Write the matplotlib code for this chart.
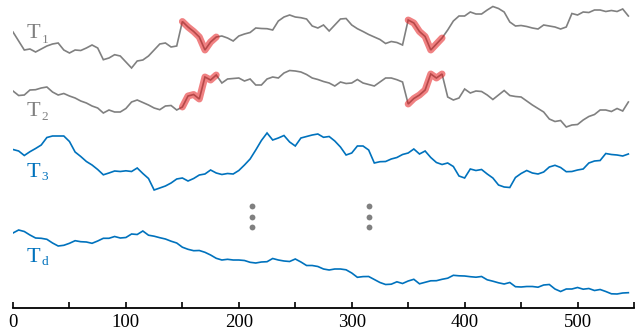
import numpy as np
import matplotlib
matplotlib.use("Agg")
import matplotlib.pyplot as plt

# time index (sampled every 5 steps)
t = np.arange(0, 550, 5)

# series values (vertical position, larger = lower on page)
t1 = [32, 41, 50, 49, 52, 49, 46, 44, 43, 50,
      53, 50, 50.5, 48, 45, 48, 59.7, 58, 54.7, 56,
      62, 68, 61, 60, 56, 50, 44, 43, 47, 46,
      21.5, 27, 31.5, 37, 50, 42, 37, 36, 38, 41,
      36, 34, 32.5, 28, 28.5, 28.7, 30, 21, 17, 15,
      17, 17.7, 19, 26, 28, 25, 31, 25, 19, 18.5,
      25, 28.7, 31.5, 34.5, 37, 39.5, 43.5, 41.5, 42.5, 45,
      20, 23, 31.5, 36.5, 50, 44, 38, 30, 21, 16,
      16, 12, 14, 14, 10, 6.5, 8.5, 12, 22, 26,
      25.5, 26.5, 28, 29, 25, 26, 27, 29, 27, 13.5,
      15, 12, 12.5, 10, 10, 11.5, 10.5, 11.5, 9, 16]

t2 = [91, 95.5, 95, 90, 89.7, 88, 87, 92, 95, 93.5,
      96, 98, 101, 103, 106, 108, 113, 110, 112, 112,
      108.5, 102, 100, 102.5, 105, 108, 109.7, 106, 105.5, 110,
      107, 96, 94.5, 99, 77, 80, 75, 83, 79, 78.5,
      78, 81, 79, 85, 85, 79, 77, 78, 73, 70.5,
      71, 72, 74.5, 78, 79.5, 81.5, 83, 86, 82, 83.5,
      83, 79.5, 83, 84.5, 86, 82, 78, 78, 79.7, 82,
      104, 98.5, 95, 90, 74, 78, 74, 97, 100, 98,
      89, 93, 91, 91.5, 95, 99.5, 95, 90.5, 95.5, 96.5,
      97, 101, 105, 108.5, 112, 119, 121.5, 120.5, 127, 125,
      124.5, 120, 116.5, 114.5, 110, 110, 111.5, 108.5, 111, 102]

t3 = [149.5, 151, 155.5, 151.7, 148.5, 145, 137.5, 136, 136, 136,
      141.5, 152, 156.5, 161.5, 165, 169.5, 174.8, 173, 171, 171.5,
      170.8, 171.5, 168, 173.5, 178.5, 190, 188, 186, 183, 179,
      178, 181, 178.5, 175, 174, 170, 173, 174.5, 173.5, 174,
      170.5, 165, 159, 150, 140.5, 133, 140, 138, 135.5, 142,
      146, 138, 136.5, 135, 134, 137.3, 136.5, 141, 147, 155,
      153, 146, 146, 150, 163, 161.7, 161.5, 159, 157.5, 154.5,
      153, 149, 154, 151, 157.5, 162.5, 164.5, 163, 166.5, 176,
      178, 169, 170.5, 169.5, 174, 178, 185, 187, 187.5, 177.5,
      173.5, 170.5, 173, 174, 172, 167, 165.3, 167.5, 171.7, 171.5,
      170, 169, 163, 161, 160.5, 153.5, 154.5, 155, 156, 154]

td = [233, 230, 231.5, 235, 238, 238.3, 239.3, 243, 246, 245.3,
      243.3, 240.7, 241.7, 242, 243.3, 241, 238.3, 238.3, 236.5, 238,
      237.5, 234, 234.5, 231, 235.2, 236.2, 237.7, 239, 241.2, 243,
      247.2, 249.3, 250.7, 250.5, 252.3, 255, 258.3, 260, 259.3, 260,
      260, 260.5, 262.3, 263, 262, 261.7, 258.5, 260, 261, 261.5,
      259, 262, 265.5, 265.5, 266.5, 269, 270, 269, 269, 269.8,
      273, 277.3, 276.6, 276.5, 279.5, 282.5, 284.5, 284.2, 281.8, 283.5,
      281, 279.3, 283.8, 282.3, 280.8, 280.7, 279.3, 278.2, 275.3, 275.8,
      276, 276.7, 277.2, 276.5, 279.8, 281.2, 282.8, 284, 282.5, 286.7,
      287, 286.5, 286.5, 287.2, 285, 284.5, 289, 291.5, 289, 289,
      287.5, 289.2, 288.5, 290.5, 289.5, 291.5, 293.8, 294, 293, 292.7]

highlight_windows = [(150, 180), (350, 380)]
dots_x = [212, 315]
dots_y = [206, 216.5, 227]
tick_pos = list(range(0, 551, 50))
tick_labels = [str(v) if v % 100 == 0 and v <= 500 else "" for v in tick_pos]

GRAY = "#808080"
BLUE = "#0072BD"
RED = "#e41a1c"

plt.rcParams["font.family"] = ["Liberation Serif", "DejaVu Serif"]

fig = plt.figure(figsize=(6.39, 3.30), dpi=100)
ax = fig.add_axes([13 / 639, 22 / 330, 621 / 639, 308 / 330])
ax.set_xlim(0, 550)
ax.set_ylim(308, 0)

t_arr = np.asarray(t)
for series, col in [(t1, GRAY), (t2, GRAY), (t3, BLUE), (td, BLUE)]:
    ax.plot(t_arr, series, color=col, lw=1.2, solid_joinstyle="miter")

for series in (t1, t2):
    s = np.asarray(series)
    for a, b in highlight_windows:
        m = (t_arr >= a) & (t_arr <= b)
        ax.plot(t_arr[m], s[m], color=RED, lw=5, alpha=0.55,
                solid_capstyle="round", solid_joinstyle="round")

for xd in dots_x:
    ax.plot([xd] * len(dots_y), dots_y, linestyle="none", marker="o",
            ms=4.2, color=GRAY, markeredgewidth=0)

labels = [("1", 38.5, 43.0, GRAY), ("2", 116.5, 120.0, GRAY),
          ("3", 176.7, 179.5, BLUE), ("d", 261.7, 265.0, BLUE)]
for sub, yb, ys, col in labels:
    ax.text(12, yb, "T", fontsize=16, color=col, va="baseline", ha="left")
    ax.text(25.5, ys, sub, fontsize=9.5, color=col, va="baseline", ha="left")

for side in ("left", "right", "top"):
    ax.spines[side].set_visible(False)
ax.spines["bottom"].set_linewidth(1.3)
ax.set_yticks([])
ax.set_xticks(tick_pos)
ax.set_xticklabels(tick_labels)
ax.tick_params(axis="x", direction="in", length=4.5, width=1.2,
               labelsize=13.5, pad=4)

fig.savefig("out.png", dpi=100)
